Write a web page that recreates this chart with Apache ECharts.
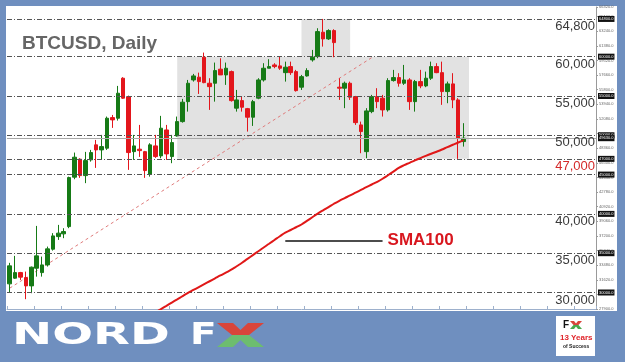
<!DOCTYPE html>
<html>
<head>
<meta charset="utf-8">
<script src="https://cdn.jsdelivr.net/npm/echarts@6/dist/echarts.min.js"></script>
<style>
    html, body { margin: 0; padding: 0; background: #6f8fbf; }
    #btc_daily { width: 625px; height: 362px; }
</style>
</head>
<body>
<div id="btc_daily"></div>
<script>
    // daily candles, [open, close, low, high]
    const candles = [
        [31100, 33390, 29950, 33770], [31820, 32530, 31730, 34660], [32530, 31950, 31600, 32620],
        [31900, 30840, 29150, 32660], [30840, 33220, 29910, 33300], [33090, 34660, 32020, 38470],
        [32530, 33510, 32020, 34570], [33510, 35550, 33300, 35840], [35510, 37200, 35330, 37550],
        [37110, 37550, 36690, 38600], [37460, 37750, 36910, 38180], [38380, 44620, 38180, 44740],
        [44670, 47210, 44410, 47800], [46960, 44870, 44580, 47080], [44870, 46780, 43910, 47890],
        [46870, 47800, 46650, 48140], [48780, 48140, 45850, 49410], [48140, 48560, 46960, 50050],
        [48360, 52170, 48140, 52380], [52250, 51960, 50940, 52590], [52170, 55350, 51870, 56280],
        [57260, 54720, 54630, 57390], [54920, 47800, 45600, 55050], [47920, 48650, 46870, 50050],
        [48230, 48050, 47250, 51320], [47920, 45510, 44580, 48010], [45090, 48780, 44740, 48990],
        [48650, 47290, 47120, 50050], [47380, 50900, 47080, 52470], [50680, 47630, 46870, 51320],
        [47290, 49070, 46450, 50050], [49920, 51740, 49830, 52380], [51740, 54210, 51610, 54630],
        [54280, 56620, 53010, 57040], [57040, 57550, 56830, 57810], [57390, 56830, 55260, 57970],
        [59930, 56700, 56620, 60520], [56620, 56190, 53230, 57260], [56620, 58230, 54280, 59250],
        [58410, 57680, 57680, 59800], [57680, 58530, 56410, 59250], [58100, 54410, 54280, 58230],
        [53450, 54500, 53010, 55770], [54410, 53570, 53010, 54920], [53390, 52300, 50470, 53480],
        [52300, 54280, 51190, 54500], [54720, 57040, 54590, 57260], [57040, 58530, 56830, 59170],
        [58530, 58740, 58530, 59680], [58950, 58740, 58530, 59170], [58830, 58530, 58320, 59970],
        [57970, 58660, 56830, 59370], [58740, 57970, 57680, 59370], [58100, 55680, 55560, 58320],
        [56120, 57460, 55770, 57680], [57550, 58230, 57460, 58530], [59590, 59930, 59370, 60860],
        [60010, 63190, 59800, 63620], [63110, 62260, 61280, 64800], [62260, 63320, 62130, 63490],
        [63320, 61790, 59930, 63490], [56120, 55990, 54500, 57260], [55990, 56620, 53450, 56830],
        [56620, 54840, 54500, 56830], [54920, 51610, 51320, 55010], [51320, 50470, 47720, 51740],
        [47920, 53100, 47080, 53450], [53010, 54920, 52810, 55140], [54920, 54280, 53450, 55990],
        [54720, 53230, 52380, 55140], [53230, 56960, 53010, 57260], [56960, 57340, 56830, 58320],
        [57340, 56620, 56190, 57900], [56620, 57040, 56410, 58950], [57040, 54280, 53230, 57260],
        [54280, 56830, 53010, 57040], [56830, 56280, 55990, 58320], [56280, 57260, 56120, 58100],
        [57260, 58740, 57040, 59370], [58740, 57970, 57900, 59170], [57970, 55560, 53870, 59370],
        [55560, 56540, 54080, 56830], [56540, 54500, 53450, 57900], [54500, 49630, 47000, 54720],
        [49200, 49630, 48560, 51540]
    ];

    // SMA100 starts at candle 26 (below the visible range at first)
    const smaStart = 26;
    const sma100 = [
        27060, 27480, 27890, 28300, 28720, 29130, 29550, 29950, 30320, 30690, 31060, 31430,
        31800, 32170, 32530, 32900, 33340, 33790, 34280, 34760, 35240, 35730, 36200, 36680,
        37160, 37610, 37950, 38300, 38650, 39110, 39570, 40030, 40460, 40870, 41290, 41670,
        42010, 42350, 42700, 43050, 43400, 43740, 44080, 44470, 44920, 45380, 45840, 46200,
        46500, 46810, 47100, 47380, 47650, 47910, 48190, 48500, 48790, 49080, 49380
    ];

    // horizontal levels and their labels ('' = no label)
    const levels      = [64800, 60000, 55000, 50000, 47000, 45000, 40000, 35000, 30000];
    const levelLabels = ['64,800', '60,000', '55,000', '50,000', '47,000', '', '40,000', '35,000', '30,000'];

    // dashed support line, [candle index, price]
    const trendStart = [0, 30550];
    const trendEnd = [67, 59880];

    // gray consolidation boxes, [from index, to index, top, bottom]
    const boxes = [[31, 85, 60000, 47000], [54, 63, 64800, 60000]];

    // SMA100 callout
    const smaNote = [51, 69, 36600];

    const slotCount = 109;
    const days = [];
    for (let i = 0; i < slotCount; i++) days.push('d' + i);

    const font = '"Liberation Sans", Arial, sans-serif';

    let smaData = [];
    let trendData = [];
    for (let i = 0; i < candles.length; i++) {
        smaData.push(i >= smaStart ? sma100[i - smaStart] : null);
        trendData.push(null);
    }
    trendData[trendStart[0]] = trendStart[1];
    trendData[trendEnd[0]] = trendEnd[1];

    const lastClose = candles[candles.length - 1][1];

    let chart = echarts.init(document.getElementById('btc_daily'));

    const option = {
        backgroundColor: '#6f8fbf',
        animation: false,
        title: {
            text: 'BTCUSD, Daily',
            left: 17,
            top: 29,
            textStyle: { fontSize: 19, fontWeight: 'bold', color: '#666666', fontFamily: font }
        },
        grid: { left: 7, right: 29, top: 7, bottom: 53 },
        xAxis: {
            type: 'category',
            data: days,
            boundaryGap: true,
            axisLine: { lineStyle: { color: '#9db0cc' } },
            axisTick: { show: true, interval: 4, inside: true, length: 3, lineStyle: { color: '#9db0cc' } },
            axisLabel: { show: false },
            splitLine: { show: false }
        },
        yAxis: {
            type: 'value',
            position: 'right',
            min: 27900,
            max: 66320,
            interval: 1860,
            axisLine: { show: true, lineStyle: { color: '#9a9a9a' } },
            axisTick: { show: true, length: 2, lineStyle: { color: '#9a9a9a' } },
            axisLabel: { fontSize: 4, color: '#666', margin: 3, formatter: function (v) { return v.toFixed(1); } },
            splitLine: { show: false }
        },
        graphic: [
            { type: 'rect', z: -10, shape: { x: 6, y: 6, width: 611, height: 305 }, style: { fill: '#ffffff' } },
            {
                type: 'text', left: 12, top: 321, scaleX: 1.6,
                style: { text: 'NORD', fill: '#ffffff', font: 'bold 30px "DejaVu Sans", sans-serif' }
            },
            {
                type: 'text', left: 190, top: 321, scaleX: 1.3,
                style: { text: 'F', fill: '#ffffff', font: 'bold 30px "DejaVu Sans", sans-serif' }
            },
            { type: 'polygon', shape: { points: [[217, 323], [233, 323], [240.5, 330], [248, 323], [264, 323], [249, 335], [232, 335]] }, style: { fill: '#d9453b' } },
            { type: 'polygon', shape: { points: [[232, 335], [249, 335], [264, 347], [248, 347], [240.5, 340], [233, 347], [217, 347]] }, style: { fill: '#6dbd6f' } },
            { type: 'rect', shape: { x: 556, y: 316, width: 39, height: 40 }, style: { fill: '#ffffff' } },
            { type: 'text', left: 563, top: 320, style: { text: 'F', fill: '#111', font: 'bold 10px ' + font } },
            { type: 'polygon', shape: { points: [[570, 321], [574, 321], [576, 323.5], [578, 321], [582, 321], [578.5, 325], [573.5, 325]] }, style: { fill: '#d9453b' } },
            { type: 'polygon', shape: { points: [[573.5, 325], [578.5, 325], [582, 329], [578, 329], [576, 326.5], [574, 329], [570, 329]] }, style: { fill: '#4aa84d' } },
            { type: 'text', left: 560, top: 334, style: { text: '13 Years', fill: '#e0242a', font: 'bold 8px ' + font } },
            { type: 'text', left: 563, top: 344, style: { text: 'of Success', fill: '#222', font: 'bold 5px ' + font } }
        ],
        series: [
            {
                name: 'boxes',
                type: 'line',
                data: [],
                z: 1,
                silent: true,
                markArea: {
                    silent: true,
                    itemStyle: { color: '#e2e2e2' },
                    data: boxes.map(function (b) {
                        return [{ xAxis: b[0], yAxis: b[2] }, { xAxis: b[1], yAxis: b[3] }];
                    })
                }
            },
            {
                name: 'levels',
                type: 'line',
                data: [],
                z: 2,
                silent: true,
                markLine: {
                    silent: true,
                    symbol: 'none',
                    lineStyle: { color: '#555', width: 1, type: [5, 2, 1, 2] },
                    data: levels.map(function (v, i) {
                        return {
                            yAxis: v,
                            label: {
                                show: levelLabels[i] !== '',
                                position: 'insideEndBottom',
                                distance: 1,
                                formatter: levelLabels[i],
                                fontSize: 13,
                                fontFamily: font,
                                color: v === 47000 ? '#d42a2a' : '#3a3a3a'
                            }
                        };
                    }).concat([{
                        yAxis: lastClose,
                        lineStyle: { color: '#a8a8a8', type: 'solid' },
                        label: { show: false }
                    }])
                }
            },
            {
                name: 'tags',
                type: 'line',
                data: [],
                z: 6,
                silent: true,
                markLine: {
                    silent: true,
                    symbol: 'none',
                    lineStyle: { color: 'rgba(0,0,0,0)', width: 0 },
                    label: {
                        show: true,
                        position: 'end',
                        distance: 2,
                        fontSize: 4,
                        color: '#fff',
                        backgroundColor: '#111',
                        padding: [1, 1],
                        formatter: function (p) { return p.value.toFixed(1); }
                    },
                    data: levels.concat([lastClose]).map(function (v) { return { yAxis: v }; })
                }
            },
            {
                name: 'trend',
                type: 'line',
                data: trendData,
                connectNulls: true,
                showSymbol: false,
                z: 3,
                lineStyle: { color: '#e07c7c', width: 1, type: [3, 3] }
            },
            {
                name: 'BTCUSD',
                type: 'candlestick',
                data: candles,
                barWidth: 4,
                z: 4,
                itemStyle: {
                    color: '#167a16',
                    color0: '#e3161c',
                    borderColor: '#167a16',
                    borderColor0: '#e3161c',
                    borderWidth: 1
                }
            },
            {
                name: 'SMA100',
                type: 'line',
                data: smaData,
                showSymbol: false,
                smooth: true,
                z: 5,
                lineStyle: { color: '#e01818', width: 2 },
                markLine: {
                    silent: true,
                    symbol: 'none',
                    lineStyle: { color: '#111', width: 1.5, type: 'solid' },
                    label: {
                        show: true,
                        position: 'end',
                        distance: 5,
                        formatter: 'SMA100',
                        color: '#d8161e',
                        fontWeight: 'bold',
                        fontSize: 17,
                        fontFamily: font
                    },
                    data: [[{ coord: [smaNote[0], smaNote[2]] }, { coord: [smaNote[1], smaNote[2]] }]]
                }
            }
        ]
    };

    chart.setOption(option);

    window.addEventListener('resize', function () {
        chart.resize();
    });
</script>
</body>
</html>
